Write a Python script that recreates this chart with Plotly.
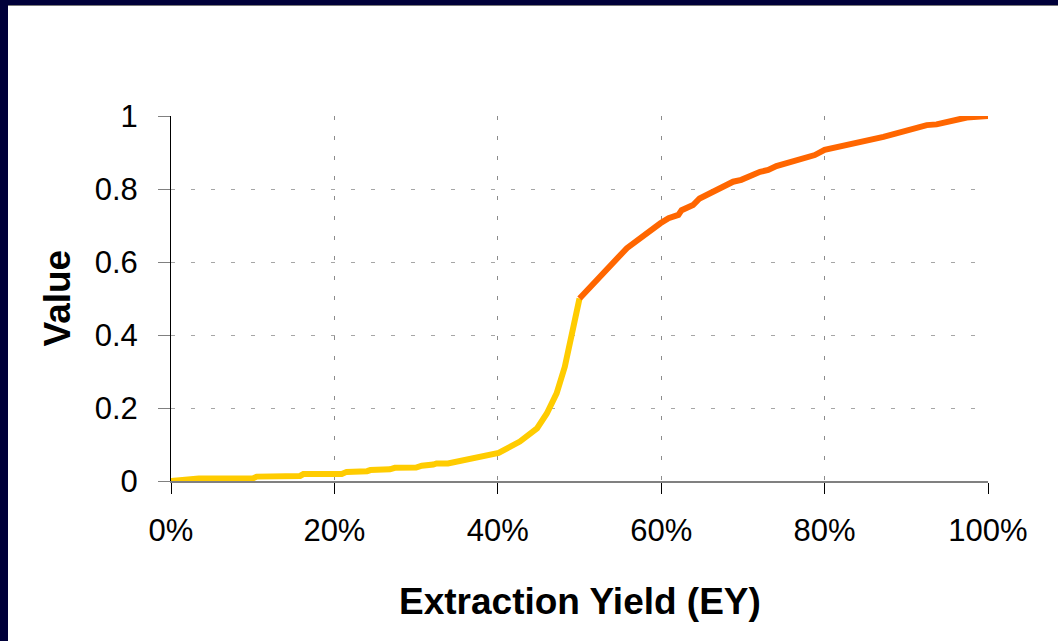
import plotly.graph_objects as go

# Extraction yield (fraction) and value along the curve, lower half
ey_low = [0.0, 0.027, 0.034, 0.100, 0.105, 0.158, 0.162, 0.209, 0.215, 0.240, 0.244,
          0.268, 0.274, 0.300, 0.307, 0.321, 0.325, 0.339, 0.370, 0.401, 0.427,
          0.448, 0.460, 0.472, 0.482, 0.490, 0.500]
val_low = [0.0, 0.003, 0.007, 0.007, 0.012, 0.014, 0.019, 0.019, 0.025, 0.027, 0.030,
           0.032, 0.036, 0.037, 0.042, 0.045, 0.048, 0.048, 0.061, 0.077, 0.108,
           0.144, 0.185, 0.240, 0.313, 0.395, 0.500]

# Upper half of the curve
ey_high = [0.500, 0.513, 0.558, 0.599, 0.609, 0.621, 0.625, 0.639, 0.647, 0.688, 0.698,
           0.721, 0.731, 0.741, 0.753, 0.762, 0.770, 0.788, 0.800, 0.872, 0.925,
           0.937, 0.974, 0.990, 1.000]
val_high = [0.500, 0.532, 0.638, 0.706, 0.720, 0.729, 0.742, 0.756, 0.774, 0.820, 0.825,
            0.847, 0.852, 0.863, 0.870, 0.879, 0.881, 0.893, 0.907, 0.943, 0.975,
            0.977, 0.996, 0.998, 1.000]

x_ticks = [0, 0.2, 0.4, 0.6, 0.8, 1.0]
x_tick_text = ["0%", "20%", "40%", "60%", "80%", "100%"]
y_ticks = [0, 0.2, 0.4, 0.6, 0.8, 1.0]
y_tick_text = ["0", "0.2", "0.4", "0.6", "0.8", "1"]

FONT = "Liberation Sans, Arial, sans-serif"
NAVY = "#00003a"

fig = go.Figure()
fig.add_trace(go.Scatter(x=ey_low, y=val_low, mode="lines",
                         line=dict(color="#ffcc00", width=6), showlegend=False))
fig.add_trace(go.Scatter(x=ey_high, y=val_high, mode="lines",
                         line=dict(color="#ff6600", width=6), showlegend=False))

L, R, T, B = 171, 70, 116, 160
W, H = 1058, 641
pw, ph = W - L - R, H - T - B

def px_x(p):
    return (p - L) / pw

def px_y(p):
    return (H - B - p) / ph

fig.update_layout(
    width=W, height=H,
    margin=dict(l=L, r=R, t=T, b=B, pad=0),
    paper_bgcolor="white", plot_bgcolor="white",
    font=dict(family=FONT, color="black"),
    xaxis=dict(range=[0, 1], tickvals=x_ticks, ticktext=x_tick_text,
               tickfont=dict(size=31, family=FONT, color="black"),
               showgrid=True, gridcolor="#8c8c8c", gridwidth=1, griddash="4px,16px",
               zeroline=False, showline=True, linecolor="#808080", linewidth=2,
               ticks="outside", ticklen=11, tickcolor="black", tickwidth=1,
               ticklabelstandoff=10),
    yaxis=dict(range=[0, 1], tickvals=y_ticks, ticktext=y_tick_text,
               tickfont=dict(size=31, family=FONT, color="black"),
               showgrid=True, gridcolor="#a6a6a6", gridwidth=1, griddash="4px,16px",
               zeroline=False, showline=True, linecolor="black", linewidth=1,
               ticks="outside", ticklen=12, tickcolor="#808080", tickwidth=1,
               ticklabelstandoff=14),
    annotations=[
        dict(text="<b>Extraction Yield (EY)</b>", xref="paper", yref="paper",
             x=0.5, y=px_y(601), xanchor="center", yanchor="middle",
             showarrow=False, font=dict(size=37, family=FONT, color="black")),
        dict(text="<b>Value</b>", xref="paper", yref="paper",
             x=px_x(57), y=0.5, xanchor="center", yanchor="middle", textangle=-90,
             showarrow=False, font=dict(size=37, family=FONT, color="black")),
    ],
    shapes=[
        dict(type="rect", xref="paper", yref="paper", layer="above",
             x0=px_x(0), x1=px_x(W), y0=px_y(0), y1=px_y(5),
             fillcolor=NAVY, line=dict(width=0)),
        dict(type="rect", xref="paper", yref="paper", layer="above",
             x0=px_x(0), x1=px_x(W), y0=px_y(5), y1=px_y(6),
             fillcolor="#7a7a7a", line=dict(width=0)),
        dict(type="rect", xref="paper", yref="paper", layer="above",
             x0=px_x(0), x1=px_x(8), y0=px_y(0), y1=px_y(H),
             fillcolor=NAVY, line=dict(width=0)),
    ],
)

fig.write_html("out.html")
